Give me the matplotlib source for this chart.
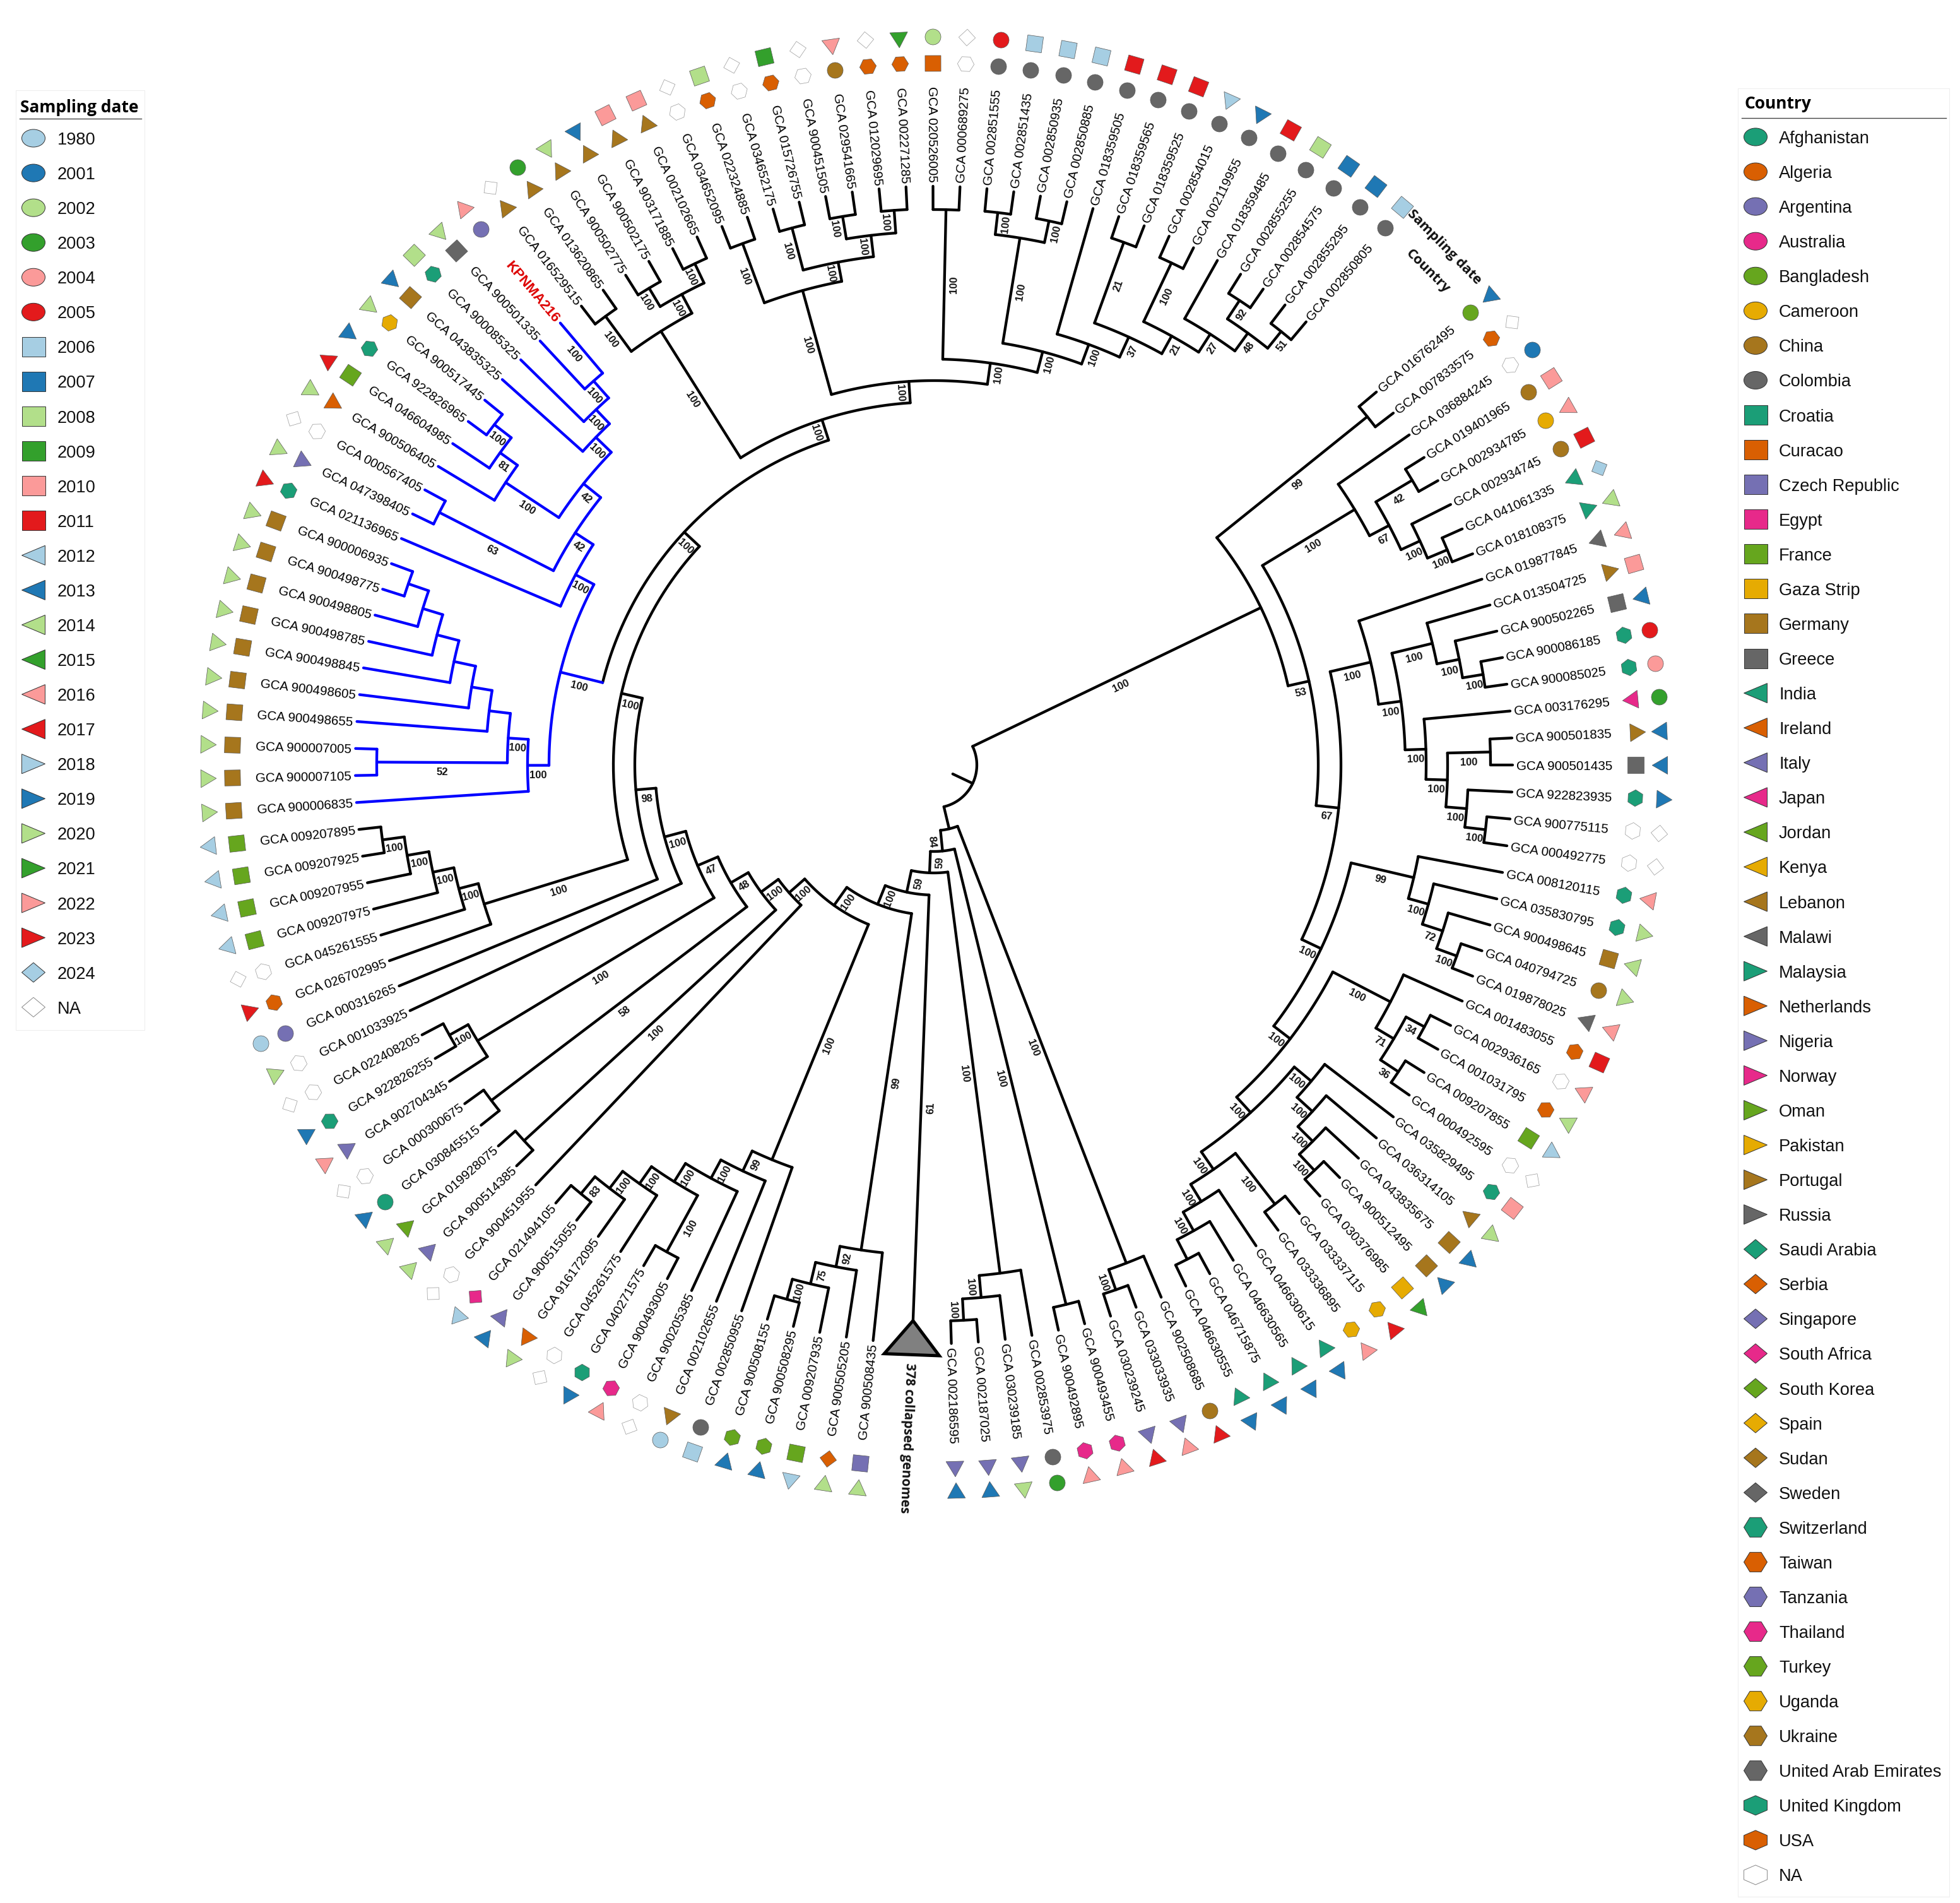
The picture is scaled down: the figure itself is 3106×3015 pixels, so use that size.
import numpy as np
import matplotlib
matplotlib.use('Agg')
import matplotlib.pyplot as plt
from matplotlib import font_manager
from matplotlib.patches import Ellipse, Polygon, Rectangle

# ---------------- data ----------------
tip_ids = """016762495 007833575 036884245 019401965 002934785 002934745 041061335 018108375 019877845 013504725
900502265 900086185 900085025 003176295 900501835 900501435 922823935 900775115 000492775 008120115
035830795 900498645 040794725 019878025 001483055 002936165 001031795 009207855 000492595 035829495
036314105 043835675 900512495 030376985 033337115 033336895 046630615 046630565 046715875 046630555
902508685 033033935 030239245 900493455 900492895 002853975 030239185 002187025 002186595 COLLAPSED
900508435 900505205 009207935 900508295 900508155 002850955 002102655 900205385 900493005 040271575
045261575 916172095 900515055 021494105 900451955 900514385 019928075 030845515 000300675 902704345
922826255 022408205 001033925 000316265 026702995 045261555 009207975 009207955 009207925 009207895
900006835 900007105 900007005 900498655 900498605 900498845 900498785 900498805 900498775 900006935
021136965 047398405 000567405 900506405 046604985 922826965 900517445 043835325 900085325 900501335
KPNMA216 016529515 013620865 900502775 900502175 903171885 002102665 034652095 022324885 034652175
015726755 900451505 029541665 012029695 002271285 020526005 000689275 002851555 002851435 002850935
002850885 018359505 018359565 018359525 002854015 002119955 018359485 002855255 002854575 002855295
002850805""".split()
collapsed_label = "378 collapsed genomes"
highlight_label = "KPNMA216"

tip_country = ["Bangladesh","USA","NA","China","Cameroon","China","India","Malaysia","Malawi","Portugal",
 "Greece","United Kingdom","United Kingdom","Japan","Portugal","Greece","United Kingdom","NA","NA","United Kingdom",
 "United Kingdom","Germany","China","Malawi","USA","NA","USA","France","NA","United Kingdom",
 "Lebanon","Germany","Germany","Gaza Strip","Uganda","Uganda","India","India","India","India",
 "China","Nigeria","Nigeria","Thailand","Thailand","Colombia","Nigeria","Nigeria","Nigeria",None,
 "Czech Republic","Serbia","France","Turkey","Turkey","Colombia","Lebanon","NA","Thailand","United Kingdom",
 "NA","Ireland","Nigeria","South Africa","NA","Nigeria","Oman","Afghanistan","NA","Nigeria",
 "United Kingdom","NA","NA","Argentina","USA","NA","France","France","France","France",
 "Germany","Germany","Germany","Germany","Germany","Germany","Germany","Germany","Germany","Germany",
 "United Kingdom","Nigeria","NA","Netherlands","France","United Kingdom","Uganda","Germany","United Kingdom","Greece",
 "Argentina","Lebanon","Lebanon","Lebanon","Lebanon","Lebanon","Lebanon","NA","USA","NA",
 "USA","NA","China","USA","USA","Curacao","NA","Colombia","Colombia","Colombia",
 "Colombia","Colombia","Colombia","Colombia","Colombia","Colombia","Colombia","Colombia","Colombia","Colombia",
 "Colombia"]
tip_year = ["2013","NA","2001","2010","2016","2011","2024","2014","2016","2010",
 "2013","2005","2004","2003","2013","2013","2019","NA","NA","2016",
 "2020","2014","2020","2016","2011","2016","2014","2018","NA","2010",
 "2020","2019","2013","2021","2017","2016","2019","2019","2019","2019",
 "2017","2016","2017","2016","2016","2003","2020","2013","2013",None,
 "2020","2020","2012","2019","2019","2006","1980","NA","2022","2013",
 "NA","2014","2019","2012","NA","2020","2020","2019","NA","2022",
 "2019","NA","2020","1980","2023","NA","2012","2012","2012","2012",
 "2020","2020","2020","2020","2020","2020","2020","2020","2020","2020",
 "2023","2020","NA","2020","2017","2019","2020","2019","2008","2020",
 "2016","NA","2003","2020","2019","2010","2010","NA","2008","NA",
 "2009","NA","2022","NA","2021","2002","NA","2005","2006","2006",
 "2006","2011","2011","2011","2012","2013","2011","2008","2007","2007",
 "2006"]

clade_first = [1, 1,1,3,3,4,4,6,7, 9,9,10,10,11,12,14,15,15,17,18, 20,20,21,22,23, 25,25,26,26,28, 30,30,31,32,33, 35,35,37,38,39,
 41,41,42,44,44,46,46,47,48,50,50,51,51,52,53,54,
 56,56,57,58,59,59,61,62,63,
 65,66,66,68,68,70,70,71,73,74,75,75,76,77,78,79,
 81,81,81,82,82,84,85,86,87,88,89,91,92,92,94,94,95,96,98,99,100,101,
 102,102,102,104,104,106,108,108,108,110,110,112,112,114,116,116,118,118,118,120,122,123,123,125,125,127,128,128,130]
clade_last = [131, 40,2,40,8,8,5,8,8, 40,19,19,13,13,13,19,19,16,19,19, 40,24,24,24,24, 40,29,29,27,29, 40,34,34,34,34, 40,36,40,40,40,
 131,43,43,131,45,131,49,49,49,131,50,131,55,55,55,55,
 131,64,64,64,64,60,64,64,64,
 131,131,67,131,69,131,72,72,131,131,131,80,80,80,80,80,
 131,101,90,90,83,90,90,90,90,90,90,101,101,93,101,97,97,97,101,101,101,101,
 131,107,103,107,105,107,131,115,109,115,111,115,113,115,131,117,131,121,119,121,131,131,124,131,126,131,131,129,131]
clade_depth = [68, 575,881,609,780,815,882,848,882, 645,711,747,813,849,882,780,814,882,847,880, 679,781,814,848,882, 712,815,848,881,882, 745,780,813,846,881, 779,881,811,845,880,
 104,846,880,137,880,171,812,847,881,206,881,238,777,810,845,878,
 273,676,711,744,778,880,811,845,880,
 306,340,881,372,880,407,845,879,442,474,508,746,778,812,847,882,
 541,610,644,676,883,710,743,778,814,847,881,643,677,880,712,813,847,881,746,777,813,917,
 575,812,881,846,880,880,609,780,880,811,880,845,881,881,643,880,677,846,881,881,710,745,881,777,880,811,846,881,880]
clade_support = [None, 100,99,53,100,67,42,100,100, 67,100,100,100,100,100,100,100,100,100,100, 100,99,100,72,100, 100,100,71,34,36, 100,100,100,100,100, 100,100,100,100,None,
 None,100,100,84,100,59,100,100,100,59,61,100,99,92,75,100,
 100,100,99,100,100,100,100,100,83,
 100,100,100,48,58,47,100,100,100,98,100,100,100,100,100,100,
 100,100,100,100,52,None,None,None,None,None,None,100,42,63,42,100,81,100,100,100,100,100,
 100,100,100,100,100,100,100,100,100,100,100,100,100,100,100,100,100,100,100,100,100,37,21,21,100,27,48,92,51]
assert len(clade_first) == len(clade_last) == len(clade_depth) == len(clade_support)

year_legend = ["1980"] + [str(y) for y in range(2001, 2025)] + ["NA"]
country_legend = ["Afghanistan","Algeria","Argentina","Australia","Bangladesh","Cameroon","China","Colombia",
 "Croatia","Curacao","Czech Republic","Egypt","France","Gaza Strip","Germany","Greece",
 "India","Ireland","Italy","Japan","Jordan","Kenya","Lebanon","Malawi",
 "Malaysia","Netherlands","Nigeria","Norway","Oman","Pakistan","Portugal","Russia",
 "Saudi Arabia","Serbia","Singapore","South Africa","South Korea","Spain","Sudan","Sweden",
 "Switzerland","Taiwan","Tanzania","Thailand","Turkey","Uganda","Ukraine","United Arab Emirates",
 "United Kingdom","USA","NA"]

year_colors = ["#a6cee3","#1f78b4","#b2df8a","#33a02c","#fb9a99","#e31a1c"]
country_colors = ["#1b9e77","#d95f02","#7570b3","#e7298a","#66a61e","#e6ab02","#a6761d","#666666"]

# ---------------- layout ----------------
W, H = 3106, 3015
CX, CY = 1480, 1212
TIP_DEPTH = 917
ROOT_STEM = 33
STEP = 2.675
REF_TIP = 16
BLUE_SPAN = (81, 101)
INNER_R, OUTER_R = 1112, 1154
LW = 3.1
TIP_FONT = 'Liberation Sans'

def bold_family():
    for fam in ('Noto Sans', 'Open Sans', 'Lato', 'Inter', 'Roboto'):
        for f in font_manager.fontManager.ttflist:
            if f.name == fam and f.style == 'normal' and f.stretch in ('normal', 500):
                w = f.weight if isinstance(f.weight, int) else {'bold': 700}.get(f.weight, 400)
                if w == 700:
                    return fam
    return TIP_FONT
HEAD_FONT = bold_family()

fig = plt.figure(figsize=(W/100, H/100), dpi=100)
ax = fig.add_axes([0, 0, 1, 1])
ax.set_xlim(-CX, W-CX)
ax.set_ylim(-(H-CY), CY)
ax.axis('off')

clades = {(f, l): (d, s) for f, l, d, s in zip(clade_first, clade_last, clade_depth, clade_support)}

def slot(i):
    return i if i <= 49 else (i + 0.45 if i == 50 else i + 0.9)

def cw_of_tip(i):
    return (slot(i) - REF_TIP) * STEP

def xy(r, cw):
    a = np.radians(-np.asarray(cw, dtype=float))
    return r*np.cos(a), r*np.sin(a)

def text_rot(cw):
    c = cw % 360
    if 90 < c < 270:
        return -cw + 180, True
    return -cw, False

def children(f, l):
    out = []
    i = f
    while i <= l:
        cand = [b for (a, b) in clades if a == i and b <= l and (a, b) != (f, l)]
        j = max(cand) if cand else i
        out.append((i, j))
        i = j + 1
    return out

def angle(f, l):
    if f == l:
        return cw_of_tip(f)
    ch = children(f, l)
    return 0.5*(angle(*ch[0]) + angle(*ch[-1]))

def is_blue(f, l):
    return BLUE_SPAN[0] <= f and l <= BLUE_SPAN[1]

def draw_node(f, l, parent_depth):
    d, sup = clades.get((f, l), (TIP_DEPTH, None))
    a = angle(f, l)
    col = '#0000ff' if is_blue(f, l) else 'black'
    x, y = xy(np.array([parent_depth, d]), a)
    ax.plot(x, y, color=col, lw=LW, solid_capstyle='round', zorder=2)
    if sup is not None:
        rm = 0.5*(parent_depth + d)
        rot, _ = text_rot(a)
        mx, my = xy(rm, a)
        rr = np.radians(rot)
        ax.text(mx + 14*np.sin(rr), my - 14*np.cos(rr), str(sup), rotation=rot, rotation_mode='anchor',
                ha='center', va='center_baseline', fontsize=12, fontweight='bold', family=TIP_FONT, color='#111111', zorder=4)
    if f != l:
        ch = children(f, l)
        a0, a1 = angle(*ch[0]), angle(*ch[-1])
        t = np.linspace(a0, a1, max(3, int(abs(a1-a0)*3)))
        x, y = xy(d, t)
        ax.plot(x, y, color=col, lw=LW, solid_capstyle='round', solid_joinstyle='round', zorder=2)
        for c in ch:
            draw_node(c[0], c[1], d)

draw_node(1, 131, ROOT_STEM)

# tip labels
for i, tid in enumerate(tip_ids, start=1):
    cw = cw_of_tip(i)
    if tid == 'COLLAPSED':
        apex = xy(881, cw)
        b0 = xy(936, cw - STEP)
        b1 = xy(936, cw + STEP)
        ax.add_patch(Polygon([apex, b0, b1], closed=True, fc='#808080', ec='black', lw=3.6, joinstyle='miter', zorder=3))
        x, y = xy(948, cw)
        ax.text(x, y, collapsed_label, rotation=-cw, rotation_mode='anchor', ha='left', va='center_baseline',
                fontsize=15.0, fontweight='bold', family=HEAD_FONT, color='#111111')
        continue
    rot, flip = text_rot(cw)
    x, y = xy(TIP_DEPTH + 6, cw)
    if tid == highlight_label:
        ax.text(x, y, tid, rotation=rot, rotation_mode='anchor', ha='right' if flip else 'left', va='center_baseline',
                fontsize=16.2, fontweight='bold', family=TIP_FONT, color='#dd0000')
    else:
        ax.text(x, y, 'GCA ' + tid, rotation=rot, rotation_mode='anchor', ha='right' if flip else 'left', va='center_baseline',
                fontsize=14.9, family=TIP_FONT, color='black')

# ring markers
def year_style(y):
    if y == "NA":
        return 'd', 'white'
    idx = year_legend.index(y)
    if idx < 6:
        return 'o', year_colors[idx]
    if idx < 12:
        return 's', year_colors[idx-6]
    if idx < 18:
        return 'l', year_colors[idx-12]
    if idx < 24:
        return 'r', year_colors[idx-18]
    return 'd', year_colors[0]

def country_style(c):
    if c == "NA":
        return 'hp', 'white'
    idx = country_legend.index(c)
    if idx >= 48:
        return 'hp', country_colors[idx-48]
    shape = ['o', 's', 'l', 'r', 'd', 'hf'][idx // 8]
    return shape, country_colors[idx % 8]

SHAPE = {'s': (4, 45, 25.5), 'l': (3, 90, 23.5), 'r': (3, -90, 23.5), 'd': (4, 0, 19.0), 'hf': (6, 30, 19.0), 'hp': (6, 0, 19.0)}

def put_marker(r, cw, shape, color):
    x, y = xy(r, cw)
    rot, _ = text_rot(cw)
    ec = '#999999' if color == 'white' else '#555555'
    if shape == 'o':
        ax.plot([x], [y], marker='o', ms=18, mfc=color, mec=ec, mew=0.5, ls='none', zorder=3)
    else:
        n, base, ms = SHAPE[shape]
        ax.plot([x], [y], marker=(n, 0, base + rot), ms=ms, mfc=color, mec=ec, mew=0.5, ls='none', zorder=3)

for i, (c, y) in enumerate(zip(tip_country, tip_year), start=1):
    if c is None:
        continue
    cw = cw_of_tip(i)
    s, col = country_style(c)
    put_marker(INNER_R, cw, s, col)
    s, col = year_style(y)
    put_marker(OUTER_R, cw, s, col)

# ring headers
for txt, r, a in (("Sampling date", OUTER_R, -45.4), ("Country", INNER_R - 3, -45.0)):
    x, y = xy(r, a)
    ax.text(x, y, txt, rotation=a, rotation_mode='anchor', ha='center', va='center_baseline',
            fontsize=15.8, fontweight='bold', family=HEAD_FONT, color='#111111')

# legends
def P(x, y):
    return x - CX, CY - y

def legend_key(px, py, shape, color):
    ec = '#888888' if color == 'white' else '#333333'
    x, y = P(px, py)
    hw, hh = 18.5, 15.5
    if shape == 'o':
        ax.add_patch(Ellipse((x, y), 2*hw, 2*14, fc=color, ec=ec, lw=0.7))
        return
    if shape == 's':
        v = [(-hw, -hh), (hw, -hh), (hw, hh), (-hw, hh)]
    elif shape == 'l':
        v = [(-hw, 0), (hw, hh), (hw, -hh)]
    elif shape == 'r':
        v = [(hw, 0), (-hw, hh), (-hw, -hh)]
    elif shape == 'd':
        v = [(-hw, 0), (0, hh), (hw, 0), (0, -hh)]
    elif shape == 'hf':
        v = [(-hw, 0), (-9, hh), (9, hh), (hw, 0), (9, -hh), (-9, -hh)]
    else:
        v = [(-hw, -7.5), (-hw, 7.5), (0, hh), (hw, 7.5), (hw, -7.5), (0, -hh)]
    ax.add_patch(Polygon([(x+a, y+b) for a, b in v], closed=True, fc=color, ec=ec, lw=0.7))

def legend(title, items, style, box, title_x, title_y, rule, first_y, key_x, text_x, dy=55.07):
    x0, y0, x1, y1 = box
    bx, by = P(x0, y1)
    ax.add_patch(Rectangle((bx, by), x1-x0, y1-y0, fc='white', ec='#eeeeee', lw=0.8, zorder=0))
    tx, ty = P(title_x, title_y)
    ax.text(tx, ty, title, fontsize=19, fontweight='bold', family=HEAD_FONT, ha='left', va='center', color='black')
    a, ry = P(rule[0], rule[2])
    b, _ = P(rule[1], rule[2])
    ax.plot([a, b], [ry, ry], color='#444444', lw=1.0)
    for k, it in enumerate(items):
        py = first_y + k*dy
        s, col = style(it)
        legend_key(key_x, py, s, col)
        lx, ly = P(text_x, py)
        ax.text(lx, ly, it, fontsize=19.6, family=TIP_FONT, ha='left', va='center_baseline', color='#111111')

legend("Sampling date", year_legend, year_style, (25, 143, 229, 1632), 32, 171, (31, 224, 188), 219, 53, 91)
legend("Country", country_legend, country_style, (2754, 140, 3089, 3005), 2765, 164, (2760, 3084, 187), 217, 2782, 2819)

fig.savefig('out.png', dpi=100, facecolor='white')
